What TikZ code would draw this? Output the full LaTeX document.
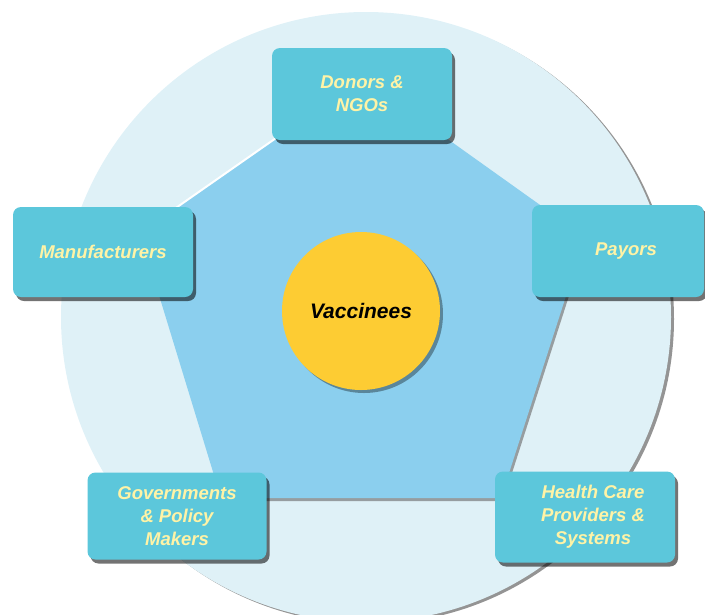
\documentclass[tikz,border=0pt]{standalone}
\usepackage{fontspec}
\setmainfont{Liberation Sans}
\usetikzlibrary{shadows}
\definecolor{ringc}{HTML}{DFF1F7}
\definecolor{pentc}{HTML}{8BCFEE}
\definecolor{boxc}{HTML}{5CC7DB}
\definecolor{txtc}{HTML}{FFF3A6}
\definecolor{yelc}{HTML}{FDCC33}
\tikzset{
  stakebox/.style={rectangle, rounded corners=8pt, fill=boxc, minimum width=180pt,
    minimum height=91pt, inner sep=0pt,
    drop shadow={shadow xshift=3pt, shadow yshift=-4pt, fill=black, opacity=0.55}},
  staketext/.style={align=center, text=txtc, inner sep=0pt,
    font=\fontsize{18.5}{23}\selectfont\bfseries\itshape},
}
\begin{document}
\begin{tikzpicture}[x=1pt,y=1pt]
\useasboundingbox (0,0) rectangle (705,-614);
% outer ring
\node[circle, minimum size=610pt, inner sep=0pt, fill=ringc,
  drop shadow={shadow xshift=3pt, shadow yshift=-2pt, fill=black!60, opacity=0.7}]
  (ring) at (366,-317) {};
% pentagon
\coordinate (p1) at (362,-78);
\coordinate (p2) at (585,-237);
\coordinate (p3) at (501,-498);
\coordinate (p4) at (221,-498);
\coordinate (p5) at (140,-233);
\fill[black!60, opacity=0.6] ([shift={(2,-3)}]p1) -- ([shift={(2,-3)}]p2) -- ([shift={(2,-3)}]p3)
  -- ([shift={(2,-3)}]p4) -- ([shift={(2,-3)}]p5) -- cycle;
\fill[pentc] (p1) -- (p2) -- (p3) -- (p4) -- (p5) -- cycle;
\draw[white, line width=2pt] (p5) -- (p1);
% centre
\node[circle, minimum size=158pt, inner sep=0pt, fill=yelc,
  drop shadow={shadow xshift=3pt, shadow yshift=-3pt, fill=black, opacity=0.35},
  font=\fontsize{21}{25}\selectfont\bfseries\itshape] (vac) at (361,-311) {Vaccinees};
% stakeholders
\node[stakebox, minimum height=92pt] (donors) at (362,-94) {};
\node[staketext] at (donors) {Donors \&\\NGOs};
\node[stakebox, minimum height=90pt] (manu) at (103,-252) {};
\node[staketext] at (manu) {Manufacturers};
\node[stakebox, minimum width=172pt, minimum height=92pt] (payors) at (618,-251) {};
\node[staketext, xshift=8pt] at (payors) {Payors};
\node[stakebox, minimum width=179pt, minimum height=87pt] (gov) at (177,-516) {};
\node[staketext] at (gov) {Governments\\\& Policy\\Makers};
\node[stakebox, minimum height=91pt] (hcp) at (585,-517) {};
\node[staketext, xshift=8pt] at (hcp) {Health Care\\Providers \&\\Systems};
\end{tikzpicture}
\end{document}
